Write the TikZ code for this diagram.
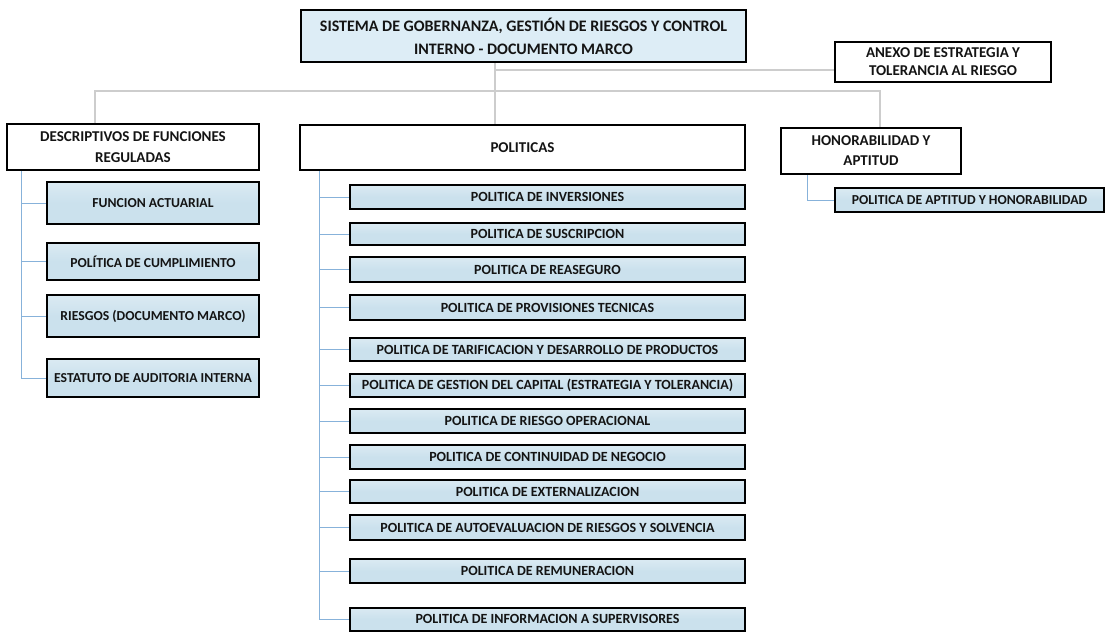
\documentclass[tikz,border=0pt]{standalone}
\usepackage{fontspec}
\setmainfont{Carlito}
\definecolor{boxblue}{RGB}{203,225,237}
\definecolor{topblue}{RGB}{221,237,246}
\definecolor{glinec}{RGB}{205,205,205}
\definecolor{blinec}{RGB}{135,178,218}
\definecolor{txt}{RGB}{20,20,20}
\tikzset{
  x=1pt, y=-1pt,
  basebox/.style={draw=black, line width=2pt, inner sep=0pt, align=center, text=txt, font=\bfseries},
  wbox/.style={basebox, fill=white},
  bbox/.style={basebox, top color=boxblue!70!white, bottom color=boxblue, middle color=boxblue},
  lchild/.style={bbox, minimum width=212pt, font=\bfseries\fontsize{13.7}{16}\selectfont},
  mchild/.style={bbox, minimum width=395pt, font=\bfseries\fontsize{14}{16}\selectfont},
  gline/.style={draw=glinec, line width=1.3pt},
  bline/.style={draw=blinec, line width=0.9pt}
}
\begin{document}
\begin{tikzpicture}
\useasboundingbox (0,0) rectangle (1107,632);
\fill[white] (0,0) rectangle (1107,632);
% top level
\node[basebox, fill=topblue, minimum width=445pt, minimum height=52pt, font=\bfseries\fontsize{16}{23}\selectfont] (top) at (523.5,36) {SISTEMA DE GOBERNANZA, GESTIÓN DE RIESGOS Y CONTROL\\INTERNO - DOCUMENTO MARCO};
\node[wbox, minimum width=216pt, minimum height=40pt, font=\bfseries\fontsize{15}{18}\selectfont] (anexo) at (943,62) {ANEXO DE ESTRATEGIA Y\\TOLERANCIA AL RIESGO};
% second level
\node[wbox, minimum width=252pt, minimum height=46pt, font=\bfseries\fontsize{15}{21}\selectfont] (desc) at (133,147) {DESCRIPTIVOS DE FUNCIONES\\REGULADAS};
\node[wbox, minimum width=445pt, minimum height=45pt, font=\bfseries\fontsize{15}{18}\selectfont] (pol) at (522.5,147.5) {POLITICAS};
\node[wbox, minimum width=180pt, minimum height=46pt, font=\bfseries\fontsize{15}{20}\selectfont] (honor) at (871,151) {HONORABILIDAD Y\\APTITUD};
\node[bbox, minimum width=269pt, minimum height=24pt, font=\bfseries\fontsize{13.7}{16}\selectfont] (aptitud) at (969.5,200) {POLITICA DE APTITUD Y HONORABILIDAD};
% left children
\node[lchild, minimum height=42pt] (funcion) at (153,203) {FUNCION ACTUARIAL};
\node[lchild, minimum height=37pt] (cumpl) at (153,261.5) {POLÍTICA DE CUMPLIMIENTO};
\node[lchild, minimum height=42pt] (riesgos) at (153,316) {RIESGOS (DOCUMENTO MARCO)};
\node[lchild, minimum height=38pt] (estatuto) at (153,378) {ESTATUTO DE AUDITORIA INTERNA};
% middle children
\node[mchild, minimum height=24pt] (inv) at (547.5,197) {POLITICA DE INVERSIONES};
\node[mchild, minimum height=22pt] (susc) at (547.5,234) {POLITICA DE SUSCRIPCION};
\node[mchild, minimum height=25pt] (reas) at (547.5,269.5) {POLITICA DE REASEGURO};
\node[mchild, minimum height=25pt] (prov) at (547.5,307.5) {POLITICA DE PROVISIONES TECNICAS};
\node[mchild, minimum height=23pt] (tarif) at (547.5,349.5) {POLITICA DE TARIFICACION Y DESARROLLO DE PRODUCTOS};
\node[mchild, minimum height=23pt] (capital) at (547.5,385.5) {POLITICA DE GESTION DEL CAPITAL (ESTRATEGIA Y TOLERANCIA)};
\node[mchild, minimum height=24pt] (oper) at (547.5,421) {POLITICA DE RIESGO OPERACIONAL};
\node[mchild, minimum height=24pt] (cont) at (547.5,457) {POLITICA DE CONTINUIDAD DE NEGOCIO};
\node[mchild, minimum height=23pt] (ext) at (547.5,491.5) {POLITICA DE EXTERNALIZACION};
\node[mchild, minimum height=25pt] (auto) at (547.5,527.5) {POLITICA DE AUTOEVALUACION DE RIESGOS Y SOLVENCIA};
\node[mchild, minimum height=24pt] (remu) at (547.5,571) {POLITICA DE REMUNERACION};
\node[mchild, minimum height=23pt] (info) at (547.5,619) {POLITICA DE INFORMACION A SUPERVISORES};
% top connectors
\coordinate (jt) at (495,91);
\coordinate (ja) at (495,70);
\coordinate (jl) at (95,91);
\coordinate (jr) at (880,91);
\draw[gline] (top.south -| jt) -- (pol.north -| jt);
\draw[gline] (ja) -- (ja -| anexo.west);
\draw[gline] (desc.north -| jl) |- (jr) -- (honor.north -| jr);
% left trunk
\coordinate (tl) at (21,0);
\draw[bline] (desc.south -| tl) |- (estatuto.west);
\foreach \n in {funcion,cumpl,riesgos} \draw[bline] (tl |- \n.west) -- (\n.west);
% middle trunk
\coordinate (tm) at (319,0);
\draw[bline] (pol.south -| tm) |- (info.west);
\foreach \n in {inv,susc,reas,prov,tarif,capital,oper,cont,ext,auto,remu} \draw[bline] (tm |- \n.west) -- (\n.west);
% honor branch
\coordinate (th) at (807,0);
\draw[bline] (honor.south -| th) |- (aptitud.west);
\end{tikzpicture}
\end{document}
